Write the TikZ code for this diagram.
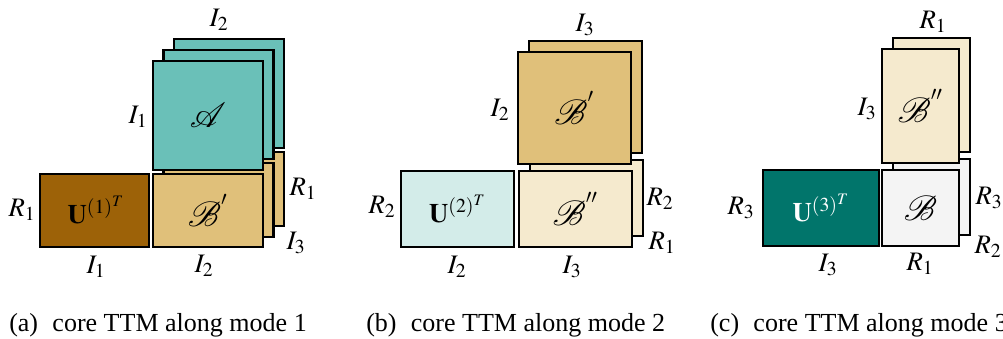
\documentclass[tikz,border=0pt]{standalone}
\usepackage{mathptmx}
\usepackage{mathrsfs}
\usepackage{fontspec}
\setmainfont{Liberation Serif}
\definecolor{tealA}{HTML}{6AC0B8}
\definecolor{brownU}{HTML}{9D6208}
\definecolor{tanB}{HTML}{E0C07A}
\definecolor{creamB}{HTML}{F5EACE}
\definecolor{paleU}{HTML}{D3ECE9}
\definecolor{darkU}{HTML}{01756B}
\definecolor{greyB}{HTML}{F4F4F4}
\tikzset{
  slab/.style={draw=black,line width=1.5pt},
  lbl/.style={font=\fontsize{19}{23}\selectfont,inner sep=0pt},
  core/.style={font=\fontsize{24.88}{30}\selectfont,inner sep=0pt},
  subcap/.style={font=\fontsize{18.5}{22}\selectfont,anchor=base west,inner sep=0pt}
}
\begin{document}
\begin{tikzpicture}[x=0.025cm,y=-0.025cm]
\useasboundingbox (0,0) rectangle (1003,338);
% (a) mode 1
\filldraw[slab,fill=tanB] (174,152) rectangle (284,226);
\filldraw[slab,fill=tanB] (163.5,163) rectangle (273.5,237);
\filldraw[slab,fill=tealA] (174,39) rectangle (284,148);
\filldraw[slab,fill=tealA] (163.5,50) rectangle (273.5,159);
\filldraw[slab,fill=tealA] (153,61) rectangle (263,170);
\filldraw[slab,fill=tanB] (153,174) rectangle (263,247);
\filldraw[slab,fill=brownU] (40,174) rectangle (149,247);
\node[core] (tA) at (208,115.5) {$\mathscr{A}$};
\node[core] (tBa) at (208,210.5) {$\mathscr{B}^{'}$};
\node[lbl] (tUa) at (96,210) {$\mathbf{U}^{(1)^T}$};
\node[lbl] (la1) at (219,20) {$I_2$};
\node[lbl] (la2) at (138,117) {$I_1$};
\node[lbl] (la3) at (22,210) {$R_1$};
\node[lbl] (la4) at (96,267) {$I_1$};
\node[lbl] (la5) at (204,266) {$I_2$};
\node[lbl] (la6) at (303,189) {$R_1$};
\node[lbl] (la7) at (296,243) {$I_3$};
% (b) mode 2
\filldraw[slab,fill=creamB] (530,160) rectangle (643,236);
\filldraw[slab,fill=tanB] (529,41) rectangle (642,153);
\filldraw[slab,fill=tanB] (518,52) rectangle (631,164);
\filldraw[slab,fill=creamB] (519,171) rectangle (632,247);
\filldraw[slab,fill=paleU] (401,171) rectangle (514,247);
\node[core] (tBb1) at (574.5,108) {$\mathscr{B}^{'}$};
\node[core] (tBb2) at (575.5,209) {$\mathscr{B}^{''}$};
\node[lbl] (tUb) at (457.5,209) {$\mathbf{U}^{(2)^T}$};
\node[lbl] (lb1) at (585,25) {$I_3$};
\node[lbl] (lb2) at (500,110) {$I_2$};
\node[lbl] (lb3) at (382,207) {$R_2$};
\node[lbl] (lb4) at (457,267) {$I_2$};
\node[lbl] (lb5) at (572,267) {$I_3$};
\node[lbl] (lb6) at (660,199) {$R_2$};
\node[lbl] (lb7) at (662,243) {$R_1$};
% (c) mode 3
\filldraw[slab,fill=greyB] (893,159) rectangle (970,235);
\filldraw[slab,fill=creamB] (893,38) rectangle (970,152);
\filldraw[slab,fill=creamB] (882,49) rectangle (959,163);
\filldraw[slab,fill=greyB] (882,170) rectangle (959,246);
\filldraw[slab,fill=darkU] (763,170) rectangle (879,246);
\node[core] (tBc1) at (920.5,106) {$\mathscr{B}^{''}$};
\node[core] (tBc2) at (920.5,208) {$\mathscr{B}$};
\node[lbl,text=white] (tUc) at (821,208) {$\mathbf{U}^{(3)^T}$};
\node[lbl] (lc1) at (933,22) {$R_1$};
\node[lbl] (lc2) at (867,109) {$I_3$};
\node[lbl] (lc3) at (741,208) {$R_3$};
\node[lbl] (lc4) at (828,265) {$I_3$};
\node[lbl] (lc5) at (920,264) {$R_1$};
\node[lbl] (lc6) at (989,198) {$R_3$};
\node[lbl] (lc7) at (988,247) {$R_2$};
% captions
\node[subcap] (capa) at (9,331) {(a)\hspace{.55em}core TTM along mode 1};
\node[subcap] (capb) at (366,331) {(b)\hspace{.55em}core TTM along mode 2};
\node[subcap] (capc) at (710,331) {(c)\hspace{.55em}core TTM along mode 3};
\end{tikzpicture}
\end{document}
